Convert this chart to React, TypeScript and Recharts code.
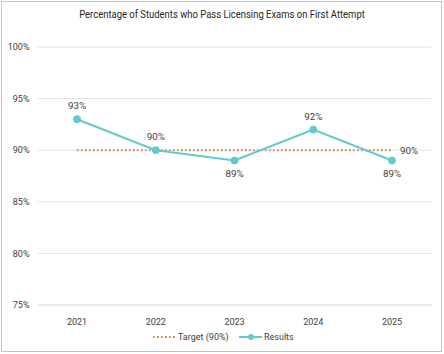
import React from 'react';
import { LineChart, Line, XAxis, YAxis, CartesianGrid, LabelList, Legend } from 'recharts';

const years = ['2021', '2022', '2023', '2024', '2025'];
const results = [93, 90, 89, 92, 89];
const target = [90, 90, 90, 90, 90];
const yTicks = [75, 80, 85, 90, 95, 100];
const title = 'Percentage of Students who Pass Licensing Exams on First Attempt';
const seriesNames = ['Target (90%)', 'Results'];

const data = years.map((y, i) => ({ year: y, target: target[i], results: results[i] }));

const FONT = "'Roboto', sans-serif";
const TEXT = '#404040';
const TEAL = '#62C9D1';
const ORANGE = '#E97C1E';

const ResultLabel = (props: any) => {
  const { x, y, value } = props;
  const below = value === 89;
  return (
    <text x={x} y={below ? y + 16.5 : y - 10} textAnchor="middle" fontSize={9.8} fill={TEXT} fontFamily={FONT}>
      {value}%
    </text>
  );
};

const TargetLabel = (props: any) => {
  const { x, y, value, index } = props;
  if (index !== years.length - 1) return null;
  return (
    <text x={x + 8} y={y + 4} textAnchor="start" fontSize={9.8} fill={TEXT} fontFamily={FONT}>
      {value}%
    </text>
  );
};

const LegendContent = () => (
  <svg width={444} height={20}>
    <line x1={153} y1={10} x2={176} y2={10} stroke={ORANGE} strokeWidth={2} strokeDasharray="1.5 2.5" />
    <text x={178} y={13.3} fontSize={9} fill={TEXT} fontFamily={FONT}>{seriesNames[0]}</text>
    <line x1={239} y1={10} x2={262} y2={10} stroke={TEAL} strokeWidth={2} />
    <circle cx={251} cy={10} r={3} fill={TEAL} />
    <text x={264} y={13.3} fontSize={9} fill={TEXT} fontFamily={FONT}>{seriesNames[1]}</text>
  </svg>
);

export default function App() {
  return (
    <div style={{ position: 'absolute', left: 0, top: 0, width: 444, height: 354, background: '#fff' }}>
      <div style={{ position: 'absolute', left: 1, top: 1, width: 439, height: 349, border: '1px solid #c4c4c4' }} />
      <div style={{ position: 'absolute', left: 0, top: 8, width: 444, textAlign: 'center', fontFamily: FONT, fontSize: 11, lineHeight: '14px', color: '#262626', transform: 'scaleX(0.86)', transformOrigin: '222px 0' }}>
        {title}
      </div>
      <div style={{ position: 'absolute', left: 0, top: 0 }}>
        <LineChart width={444} height={354} data={data} margin={{ top: 47, right: 12.5, bottom: 19, left: 7.5 }}>
          <CartesianGrid horizontal vertical={false} stroke="#e3e3e3" />
          <XAxis dataKey="year" padding={{ left: 39.5, right: 39.5 }} axisLine={{ stroke: '#e3e3e3' }} tickLine={false} tick={{ fontSize: 9, fill: TEXT, fontFamily: FONT }} tickMargin={8} />
          <YAxis width={30} domain={[75, 100]} ticks={yTicks} axisLine={false} tickLine={false} tickFormatter={(v: number) => `${v}%`} tick={{ fontSize: 9, fill: TEXT, fontFamily: FONT }} tickMargin={2} interval={0} />
          <Line dataKey="target" name={seriesNames[0]} stroke={ORANGE} strokeWidth={2} strokeDasharray="1.5 2.5" dot={false} isAnimationActive={false}>
            <LabelList dataKey="target" content={TargetLabel} />
          </Line>
          <Line dataKey="results" name={seriesNames[1]} stroke={TEAL} strokeWidth={2} dot={{ r: 3.5, fill: TEAL, stroke: TEAL, strokeWidth: 1 }} isAnimationActive={false}>
            <LabelList dataKey="results" content={ResultLabel} />
          </Line>
          <Legend layout="horizontal" verticalAlign="middle" align="center" wrapperStyle={{ top: 327, left: 0, width: 444, height: 20 }} content={LegendContent} />
        </LineChart>
      </div>
    </div>
  );
}
